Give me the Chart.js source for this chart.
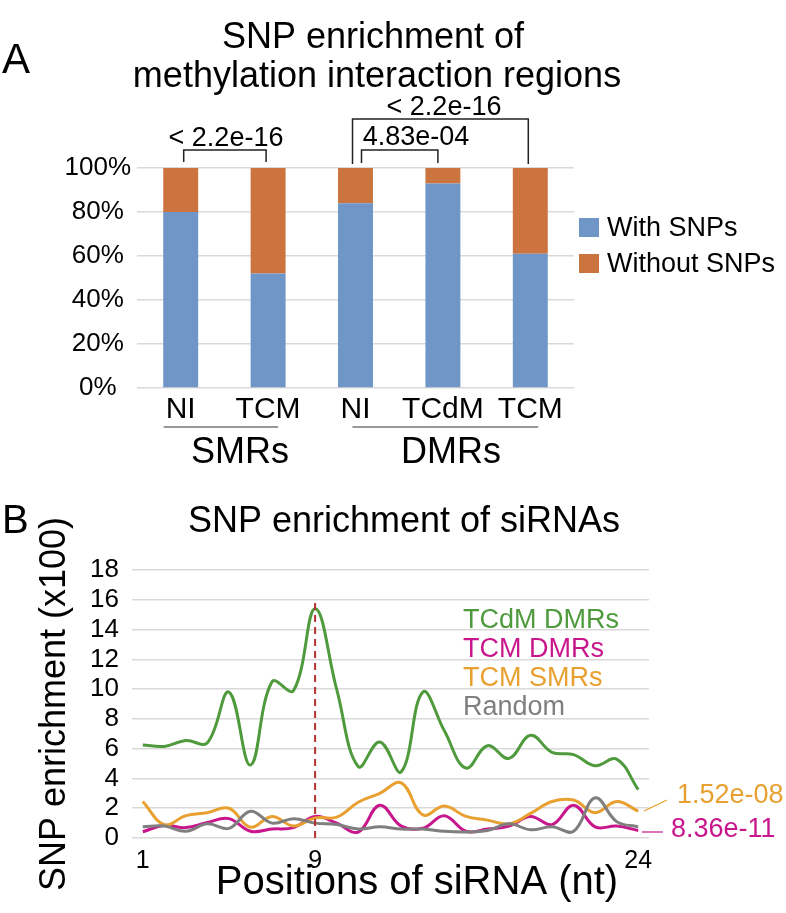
<!DOCTYPE html>
<html>
<head>
<meta charset="utf-8">
<script src="https://cdn.jsdelivr.net/npm/chart.js@4.4.1/dist/chart.umd.min.js"></script>
<style>
  html, body { margin: 0; padding: 0; background: #fff; }
  #wrap { position: relative; width: 786px; height: 913px; overflow: hidden; }
  #chartA { position: absolute; left: 0; top: 0; }
  #chartB { position: absolute; left: 0; top: 480px; }
</style>
</head>
<body>
<div id="wrap">
  <canvas id="chartA" width="786" height="480"></canvas>
  <canvas id="chartB" width="786" height="433"></canvas>
</div>
<script>
// ---- panel A data ----
const groups = ['NI', 'TCM', 'NI', 'TCdM', 'TCM'];
const withSNPs = [80, 52, 84, 93, 61];
const withoutSNPs = [20, 48, 16, 7, 39];
const pctTicks = [0, 20, 40, 60, 80, 100];

// ---- panel B data ----
const positions = [1, 2, 3, 4, 5, 6, 7, 8, 9, 10, 11, 12, 13, 14, 15, 16, 17, 18, 19, 20, 21, 22, 23, 24];
const shownPositions = [1, 9, 24];
const enrichTicks = [0, 2, 4, 6, 8, 10, 12, 14, 16, 18];
const tcdmDMRs = [6.25, 6.15, 6.55, 6.4, 9.8, 4.9, 10.5, 9.9, 15.4, 10.0, 4.8, 6.45, 4.45, 9.8, 7.2, 4.7, 6.2, 5.35, 6.9, 5.75, 5.6, 4.85, 5.3, 3.25];
const tcmDMRs = [0.42, 0.85, 0.7, 1.05, 1.3, 0.45, 0.6, 0.7, 1.45, 1.0, 0.4, 2.2, 0.8, 0.65, 1.5, 0.45, 0.6, 0.8, 1.45, 0.9, 2.2, 0.75, 0.8, 0.5];
const tcmSMRs = [2.45, 0.9, 1.5, 1.7, 2.0, 0.72, 1.45, 0.8, 1.35, 1.4, 2.4, 3.0, 3.7, 1.55, 2.15, 1.45, 1.2, 0.95, 1.65, 2.45, 2.55, 1.7, 2.45, 1.8];
const randomSet = [0.76, 0.8, 0.45, 0.95, 0.65, 1.8, 1.0, 1.3, 1.0, 0.9, 0.6, 0.75, 0.6, 0.6, 0.45, 0.4, 0.5, 0.95, 0.55, 0.75, 0.45, 2.7, 1.1, 0.75];
const peakPosition = 9;
const pvals = ['1.52e-08', '8.36e-11'];

const FONT = '"Liberation Sans", Arial, Helvetica, sans-serif';
Chart.defaults.font.family = FONT;
Chart.defaults.color = '#000';

function txt(ctx, s, x, y, size, color, align) {
  ctx.font = size + 'px ' + FONT;
  ctx.fillStyle = color || '#000';
  ctx.textAlign = align || 'left';
  ctx.textBaseline = 'alphabetic';
  ctx.fillText(s, x, y);
}
function line(ctx, pts, color, w) {
  ctx.beginPath();
  ctx.moveTo(pts[0][0], pts[0][1]);
  for (let i = 1; i < pts.length; i++) ctx.lineTo(pts[i][0], pts[i][1]);
  ctx.strokeStyle = color;
  ctx.lineWidth = w;
  ctx.stroke();
}

// titles, p-value brackets, legend and group labels for panel A
const annotateA = {
  id: 'annotateA',
  afterDraw(chart) {
    const {ctx, scales: {x, y}} = chart;
    ctx.save();
    txt(ctx, 'A', 2, 73, 42);
    txt(ctx, 'SNP enrichment of', 373, 48, 36, '#000', 'center');
    txt(ctx, 'methylation interaction regions', 377, 87, 36, '#000', 'center');

    const top = y.getPixelForValue(100);
    const c = i => x.getPixelForValue(i);
    // SMR NI vs TCM
    line(ctx, [[c(0) + 3, top - 6], [c(0) + 3, top - 18], [c(1) - 2, top - 18], [c(1) - 2, top - 6]], '#222', 1.5);
    txt(ctx, '< 2.2e-16', 226, 146, 27, '#000', 'center');
    // DMR NI vs TCM
    line(ctx, [[c(2) - 3, top - 4], [c(2) - 3, top - 49], [c(4) - 2, top - 49], [c(4) - 2, top - 4]], '#222', 1.5);
    txt(ctx, '< 2.2e-16', 444, 115, 27, '#000', 'center');
    // DMR NI vs TCdM
    line(ctx, [[c(2) + 6, top - 5], [c(2) + 6, top - 18], [c(3) - 5, top - 18], [c(3) - 5, top - 5]], '#222', 1.5);
    txt(ctx, '4.83e-04', 416, 145, 27, '#000', 'center');

    // legend
    chart.data.datasets.forEach((ds, i) => {
      const yy = 218 + i * 36;
      ctx.fillStyle = ds.backgroundColor;
      ctx.fillRect(579, yy, 20, 19);
      txt(ctx, ds.label, 607, yy + 18, 27);
    });

    // group labels
    line(ctx, [[c(0) - 17, 427], [c(1) + 10, 427]], '#333', 1.2);
    line(ctx, [[c(2) - 3, 427], [c(4) + 8, 427]], '#333', 1.2);
    txt(ctx, 'SMRs', 240, 463, 36, '#000', 'center');
    txt(ctx, 'DMRs', 451, 463, 36, '#000', 'center');
    ctx.restore();
  }
};

new Chart(document.getElementById('chartA'), {
  type: 'bar',
  data: {
    labels: groups,
    datasets: [
      {label: 'With SNPs', data: withSNPs, backgroundColor: '#7096c8'},
      {label: 'Without SNPs', data: withoutSNPs, backgroundColor: '#cc7440'}
    ]
  },
  options: {
    responsive: false,
    animation: false,
    layout: {padding: {left: 40, right: 212, top: 168, bottom: 52}},
    datasets: {bar: {barPercentage: 0.4, categoryPercentage: 1}},
    scales: {
      x: {
        stacked: true,
        grid: {display: false},
        border: {display: false},
        ticks: {font: {size: 30}, padding: -4, autoSkip: false, maxRotation: 0, color: '#000'},
        afterFit(s) { s.height = 40; }
      },
      y: {
        stacked: true,
        min: 0,
        max: 100,
        afterBuildTicks(s) { s.ticks = pctTicks.map(v => ({value: v})); },
        ticks: {callback: v => v + '%', autoSkip: false, crossAlign: 'center', padding: 6, font: {size: 26}, color: '#000'},
        grid: {color: '#d9d9d9', lineWidth: 1.5, drawTicks: false},
        border: {display: false},
        afterFit(s) { s.width = 97; }
      }
    },
    plugins: {legend: {display: false}, tooltip: {enabled: false}}
  },
  plugins: [annotateA]
});

// title, series labels, peak marker and p-values for panel B
const annotateB = {
  id: 'annotateB',
  afterDraw(chart) {
    const {ctx, scales: {x, y}, chartArea} = chart;
    ctx.save();
    txt(ctx, 'B', 2, 53, 40);
    txt(ctx, 'SNP enrichment of siRNAs', 404, 52, 36, '#000', 'center');

    // dashed line at the peak position
    const px = x.getPixelForValue(positions.indexOf(peakPosition));
    ctx.setLineDash([7, 5]);
    line(ctx, [[px, y.getPixelForValue(0)], [px, y.getPixelForValue(16)]], '#b5312f', 2);
    ctx.setLineDash([]);

    // series names in their colours
    chart.data.datasets.forEach((ds, i) => {
      txt(ctx, ds.label, 463, 148 + i * 29, 27, ds.borderColor);
    });

    // p-values next to line ends
    const r = chartArea.right;
    line(ctx, [[r - 5, 331], [r + 18, 320]], '#e8a030', 1.2);
    txt(ctx, pvals[0], 677, 323, 27, '#e8a030');
    line(ctx, [[r - 7, 352], [r + 14, 352]], '#c8178c', 1.2);
    txt(ctx, pvals[1], 671, 357, 27, '#c8178c');

    txt(ctx, 'Positions of siRNA (nt)', 417, 414, 40, '#000', 'center');
    ctx.restore();
  }
};

new Chart(document.getElementById('chartB'), {
  type: 'line',
  data: {
    labels: positions,
    datasets: [
      {label: 'TCdM DMRs', data: tcdmDMRs, borderColor: '#4e9a3c', order: 4},
      {label: 'TCM DMRs', data: tcmDMRs, borderColor: '#c8178c', order: 3},
      {label: 'TCM SMRs', data: tcmSMRs, borderColor: '#e8a030', order: 2},
      {label: 'Random', data: randomSet, borderColor: '#7f7f7f', order: 1}
    ]
  },
  options: {
    responsive: false,
    animation: false,
    layout: {padding: {left: 0, right: 137, top: 90, bottom: 35}},
    elements: {point: {radius: 0}, line: {tension: 0.4, borderWidth: 3, fill: false}},
    scales: {
      x: {
        offset: true,
        grid: {display: false},
        border: {display: false},
        ticks: {
          autoSkip: false, maxRotation: 0, padding: 0, font: {size: 25}, color: '#000',
          callback(v, i) { return shownPositions.includes(positions[i]) ? String(positions[i]) : ''; }
        },
        afterFit(s) { s.height = 40; }
      },
      y: {
        min: 0,
        max: 18,
        afterBuildTicks(s) { s.ticks = enrichTicks.map(v => ({value: v})); },
        ticks: {autoSkip: false, padding: 13, font: {size: 26}, color: '#000'},
        grid: {color: '#d9d9d9', lineWidth: 1.5, drawTicks: false},
        border: {display: false},
        title: {display: true, text: 'SNP enrichment (x100)', font: {size: 36}, color: '#000', padding: {top: 33}},
        afterFit(s) { s.width = 132; }
      }
    },
    plugins: {legend: {display: false}, tooltip: {enabled: false}}
  },
  plugins: [annotateB]
});
</script>
</body>
</html>
